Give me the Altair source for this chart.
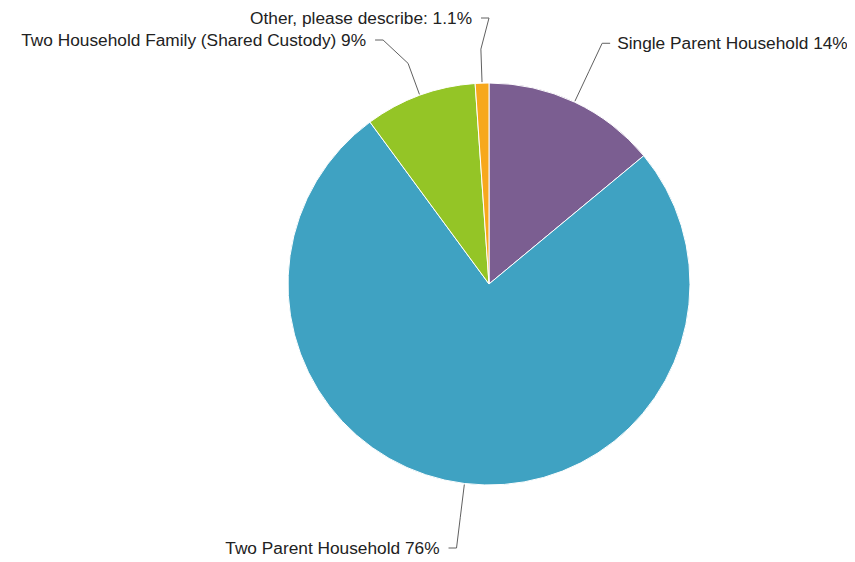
import math
import altair as alt
import pandas as pd

# ---- data ----
categories = [
    "Single Parent Household",
    "Two Parent Household",
    "Two Household Family (Shared Custody)",
    "Other, please describe:",
]
values = [14, 76, 9, 1.1]
colors = ["#7B5E91", "#3FA2C2", "#94C526", "#F7A81C"]

# ---- layout ----
W, H = 839, 546
CX, CY = 481, 276          # pie centre in chart pixels
R = 201                    # pie radius
LABEL_R = 266              # radius on which label connectors end
BREAK_R = 235              # connector break radius
GAP = 22                   # min vertical spacing between labels
FS = 17.3

total = sum(values)
mids = []
acc = 0.0
for v in values:
    a0 = acc / total * 2 * math.pi
    acc += v
    a1 = acc / total * 2 * math.pi
    mids.append((a0 + a1) / 2)

sides = ["R" if math.sin(m) >= 0 else "L" for m in mids]
ys = [LABEL_R * math.cos(m) for m in mids]
for side in "LR":
    order = sorted([i for i in range(len(values)) if sides[i] == side], key=lambda i: -ys[i])
    for k in range(1, len(order)):
        u, l = order[k - 1], order[k]
        deficit = GAP - (ys[u] - ys[l])
        if deficit > 0:
            up = min(deficit, LABEL_R - ys[u]) if k == 1 else 0
            ys[u] += up
            ys[l] -= deficit - up

def pct(v):
    return f"{v:g}%"

arc_df = pd.DataFrame({
    "cat": categories,
    "value": values,
    "idx": list(range(len(values))),
})

line_rows = []
label_rows = []
for i, (c, v, m) in enumerate(zip(categories, values, mids)):
    s = 1 if sides[i] == "R" else -1
    y = ys[i]
    cx = s * math.sqrt(max(LABEL_R ** 2 - y ** 2, 0))
    pts = [
        ((R + 1) * math.sin(m), (R + 1) * math.cos(m)),
        (BREAK_R * math.sin(m), BREAK_R * math.cos(m)),
        (cx, y),
        (cx + s * 8, y),
    ]
    for j, (px, py) in enumerate(pts):
        line_rows.append({"cat": c, "pt": j, "x": px, "y": py})
    label_rows.append({"cat": c, "side": sides[i], "x": cx + s * (15 if s > 0 else 17), "y": y,
                       "label": f"{c} {pct(v)}"})

line_df = pd.DataFrame(line_rows)
label_df = pd.DataFrame(label_rows)

xscale = alt.Scale(domain=[-CX, W - CX], zero=False, nice=False)
yscale = alt.Scale(domain=[-(H - CY), CY], zero=False, nice=False)

pie = alt.Chart(arc_df).mark_arc(radius=R, stroke="white", strokeWidth=1).encode(
    theta=alt.Theta("value:Q", stack=True),
    order=alt.Order("idx:Q"),
    color=alt.Color("cat:N", scale=alt.Scale(domain=categories, range=colors), legend=None),
    x=alt.value(CX),
    y=alt.value(CY),
)

connectors = alt.Chart(line_df).mark_line(color="#606060", strokeWidth=1).encode(
    x=alt.X("x:Q", scale=xscale, axis=None),
    y=alt.Y("y:Q", scale=yscale, axis=None),
    detail="cat:N",
    order=alt.Order("pt:Q"),
)

font = "Liberation Sans"
labels_r = alt.Chart(label_df).transform_filter(alt.datum.side == "R").mark_text(
    align="left", baseline="middle", dy=1, font=font, fontSize=FS, color="#222222"
).encode(
    x=alt.X("x:Q", scale=xscale, axis=None),
    y=alt.Y("y:Q", scale=yscale, axis=None),
    text="label:N",
)
labels_l = alt.Chart(label_df).transform_filter(alt.datum.side == "L").mark_text(
    align="right", baseline="middle", dy=1, font=font, fontSize=FS, color="#222222"
).encode(
    x=alt.X("x:Q", scale=xscale, axis=None),
    y=alt.Y("y:Q", scale=yscale, axis=None),
    text="label:N",
)

chart = alt.layer(pie, connectors, labels_r, labels_l).properties(
    width=W, height=H, padding=0,
    autosize=alt.AutoSizeParams(type="none"),
).configure_view(stroke=None)

chart.save("out.html", embed_options={"renderer": "svg", "actions": False})
